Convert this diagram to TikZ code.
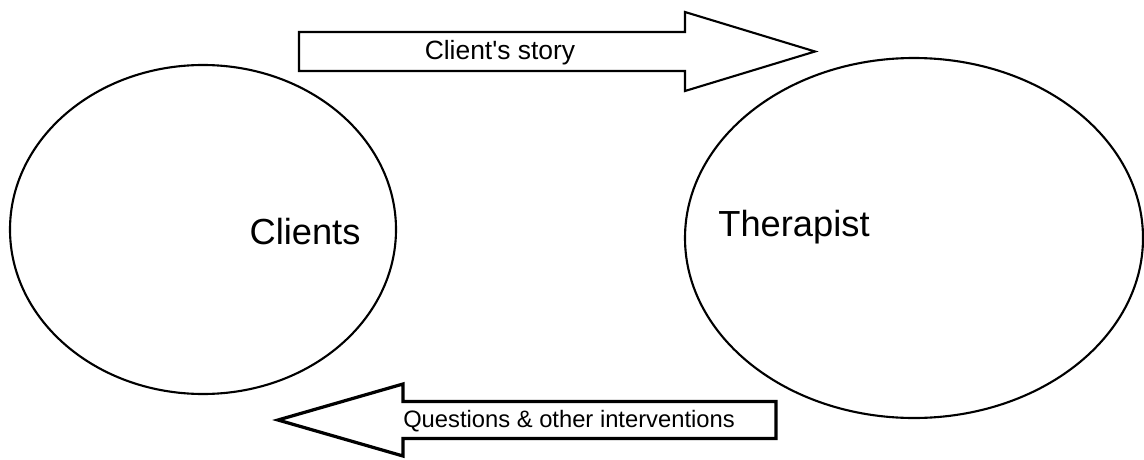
\documentclass[tikz,border=0pt]{standalone}
\usepackage{fontspec}
\setmainfont{Liberation Sans}[Ligatures=TeXOff]
\usetikzlibrary{shapes.geometric}

\begin{document}
\begin{tikzpicture}[
  every node/.style={inner sep=0pt},
  party/.style={ellipse, draw, line width=1.5pt},
  partyname/.style={font=\fontsize{25.8}{30}\selectfont},
  flowtext/.style={font=\fontsize{18.8}{22}\selectfont},
  backtext/.style={font=\fontsize{16.9}{20}\selectfont}
]

\useasboundingbox (0,0) rectangle (28.6,11.475);

% Block arrow: tail, head base, tip, mid height, shaft and head half-widths.
\newcommand{\blockarrow}[7]{%
  % #1 style  #2 tail x  #3 base x  #4 tip x  #5 y  #6 shaft half  #7 head half
  \draw[#1, line join=miter]
    (#2,#5+#6) -- (#3,#5+#6) -- (#3,#5+#7) -- (#4,#5)
    -- (#3,#5-#7) -- (#3,#5-#6) -- (#2,#5-#6) -- cycle;
}

% the two parties
\node[party, minimum width=9.65cm, minimum height=8.225cm] (clients) at (5.075,5.7375) {};
\node[party, minimum width=11.45cm, minimum height=9cm] (therapist) at (22.85,5.525) {};

\node[partyname] (clientsname) at (7.625,5.675) {Clients};
\node[partyname] (therapistname) at (19.85,5.8) {Therapist};

% story goes to the therapist
\blockarrow{line width=1.5pt}{7.475}{17.125}{20.375}{10.1875}{0.4875}{0.9875}
\node[flowtext] (story) at (12.5,10.17) {Client's story};

% interventions come back
\blockarrow{line width=2.3pt}{19.4}{10.075}{6.95}{0.975}{0.4625}{0.9}
\node[backtext] (interventions) at (14.225,0.95) {Questions \& other interventions};

\end{tikzpicture}
\end{document}
